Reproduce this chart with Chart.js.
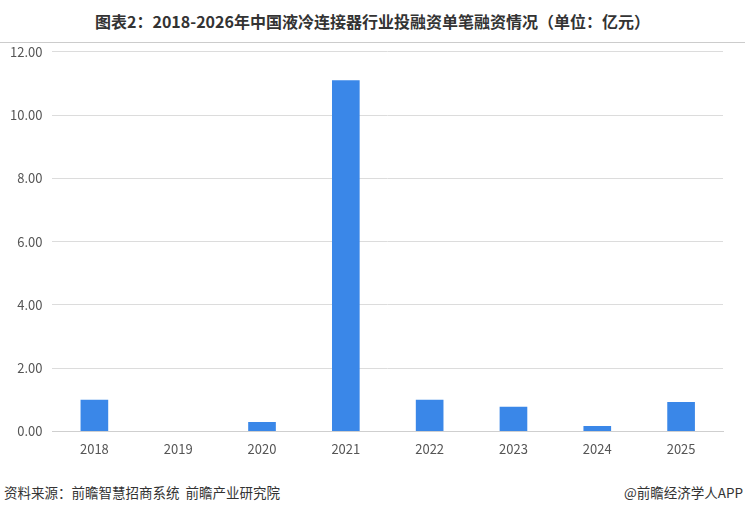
<!DOCTYPE html>
<html>
<head>
<meta charset="utf-8">
<script src="https://cdn.jsdelivr.net/npm/chart.js@4.4.0/dist/chart.umd.min.js"></script>
<style>
  body { margin: 0; background: #fff; font-family: "Noto Sans CJK SC", sans-serif; }
  #title { position: absolute; left: 0; top: 0; width: 745px; height: 42px; line-height: 42px;
           text-align: center; font-size: 16px; font-weight: bold; color: #333; border-bottom: 1px solid #ccc; }
  #wrap { position: absolute; left: 0; top: 34px; width: 745px; height: 433px; }
  .foot { position: absolute; top: 482px; font-size: 13.5px; color: #333; }
</style>
</head>
<body>
<div id="title">图表2：2018-2026年中国液冷连接器行业投融资单笔融资情况（单位：亿元）</div>
<div id="wrap"><canvas id="c"></canvas></div>
<div class="foot" style="left:4px">资料来源：前瞻智慧招商系统&nbsp;&nbsp;前瞻产业研究院</div>
<div class="foot" style="right:2px">@前瞻经济学人APP</div>
<script>
// 单笔融资金额（亿元）
const years = ['2018', '2019', '2020', '2021', '2022', '2023', '2024', '2025'];
const amounts = [1.0, 0, 0.3, 11.1, 1.0, 0.78, 0.17, 0.93];

const ctx = document.getElementById('c').getContext('2d');
new Chart(ctx, {
    type: 'bar',
    data: {
        labels: years,
        datasets: [{
            label: '单笔融资',
            data: amounts,
            backgroundColor: '#3a87e8',
            barPercentage: 0.33,
            categoryPercentage: 1.0
        }]
    },
    options: {
        responsive: true,
        maintainAspectRatio: false,
        animation: false,
        layout: { padding: { left: 0, right: 22, top: 2, bottom: 0 } },
        plugins: {
            legend: { display: false },
            tooltip: { enabled: false }
        },
        scales: {
            y: {
                min: 0,
                max: 12,
                ticks: {
                    stepSize: 2,
                    color: '#555',
                    font: { size: 13, family: "'Noto Sans CJK SC', sans-serif" },
                    padding: 10,
                    callback: v => v.toFixed(2)
                },
                grid: { color: '#dcdcdc', drawTicks: false },
                border: { display: false }
            },
            x: {
                ticks: {
                    color: '#555',
                    font: { size: 13, family: "'Noto Sans CJK SC', sans-serif" },
                    padding: 10
                },
                grid: { display: false, drawTicks: false },
                border: { color: '#cfcfcf' }
            }
        }
    }
});
</script>
</body>
</html>
